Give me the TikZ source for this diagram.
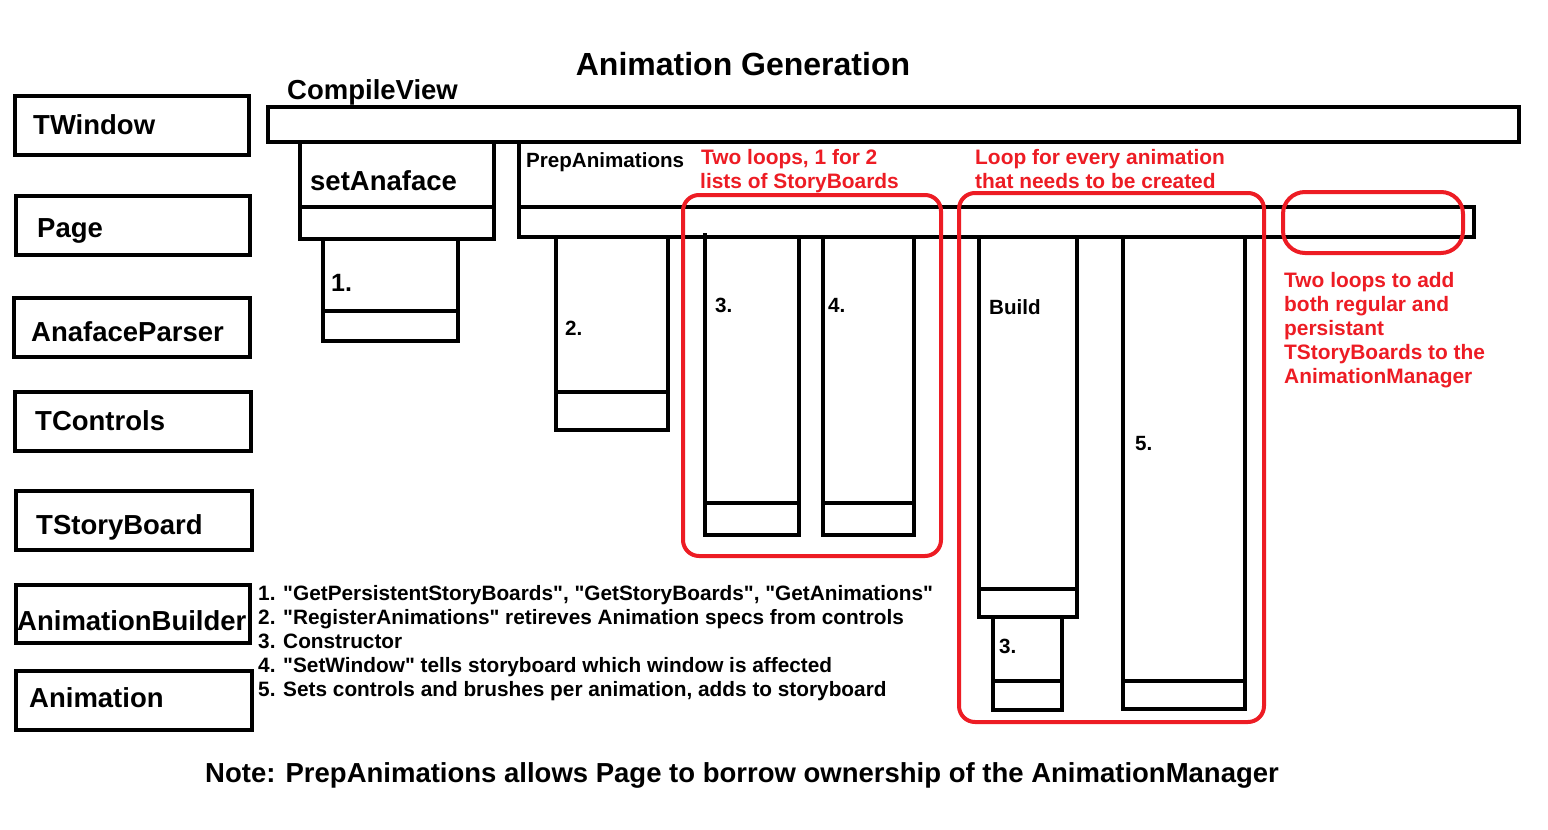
\documentclass[tikz,border=0pt]{standalone}
\usepackage{fontspec}
\setmainfont{Liberation Sans}[Ligatures=TeXOff]
\definecolor{pred}{RGB}{237,28,36}
\begin{document}
\begin{tikzpicture}[x=1pt,y=-1pt,line join=miter,
  box/.style={draw=black,line width=4pt},
  loop/.style={draw=pred,line width=4pt,rounded corners=16pt},
  lbl/.style={anchor=base west,inner sep=0pt,font=\bfseries\fontsize{27.5}{27.5}\selectfont},
  small/.style={anchor=base west,inner sep=0pt,font=\bfseries\fontsize{20.6}{20.6}\selectfont},
  redtxt/.style={anchor=base west,inner sep=0pt,text=pred,font=\bfseries\fontsize{20.9}{20.9}\selectfont},
  legend/.style={anchor=base west,inner sep=0pt,font=\bfseries\fontsize{20.8}{20.8}\selectfont}]
\useasboundingbox[fill=white] (0,0) rectangle (1548,830);

% title
\node[anchor=base,inner sep=0pt,font=\bfseries\fontsize{32}{32}\selectfont] (title) at (743,75) {Animation Generation};

% class boxes
\draw[box] (15,96) rectangle (249,155);
\node[lbl] (twindow) at (33,134) {TWindow};
\draw[box] (16,196) rectangle (250,255);
\node[lbl] (page) at (37,237) {Page};
\draw[box] (14,298) rectangle (250,357);
\node[lbl] (parser) at (31,341) {AnafaceParser};
\draw[box] (15,392) rectangle (251,451);
\node[lbl] (tcontrols) at (35,430) {TControls};
\draw[box] (16,491) rectangle (252,550);
\node[lbl] (tstory) at (36,534) {TStoryBoard};
\draw[box] (16,585) rectangle (250,643);
\node[lbl] (builder) at (17,630) {AnimationBuilder};
\draw[box] (16,671) rectangle (252,730);
\node[lbl] (animation) at (29,707) {Animation};

% CompileView
\node[lbl] (compileview) at (287,99) {CompileView};
\draw[box] (268,107) rectangle (1519,142);

% setAnaface
\draw[box] (300,142) rectangle (494,239);
\draw[box] (300,207) -- (494,207);
\node[lbl] (setanaface) at (310,190) {setAnaface};
\draw[box] (323,239) rectangle (458,341);
\draw[box] (323,311) -- (458,311);
\node[anchor=base west,inner sep=0pt,font=\bfseries\fontsize{25}{25}\selectfont] (n1) at (331,291) {1.};

% PrepAnimations
\draw[box] (519,140) -- (519,237);
\draw[box] (519,207) rectangle (1474,237);
\node[small] (prep) at (526,167) {PrepAnimations};

\draw[box] (556,237) rectangle (668,430);
\draw[box] (556,392) -- (668,392);
\node[small] (n2) at (565,335) {2.};

\draw[box] (705,237) rectangle (799,535);
\draw[box] (705,233) -- (705,237);
\draw[box] (705,503) -- (799,503);
\node[small] (n3) at (715,312) {3.};

\draw[box] (823,237) rectangle (914,535);
\draw[box] (823,503) -- (914,503);
\node[small] (n4) at (828,312) {4.};

\draw[box] (979,237) rectangle (1077,617);
\draw[box] (979,589) -- (1077,589);
\node[small] (build) at (989,314) {Build};

\draw[box] (993,617) rectangle (1062,710);
\draw[box] (993,681) -- (1062,681);
\node[small] (n3b) at (999,653) {3.};

\draw[box] (1123,237) rectangle (1245,709);
\draw[box] (1123,681) -- (1245,681);
\node[small] (n5) at (1135,450) {5.};

% red loops
\draw[loop] (683,195) rectangle (941,556);
\draw[loop] (959,193) rectangle (1264,722);
\draw[loop,rounded corners=22pt] (1283,192) rectangle (1463,253);

\node[redtxt] (loopa1) at (701,164) {Two loops, 1 for 2};
\node[redtxt] (loopa2) at (700,188) {lists of StoryBoards};
\node[redtxt] (loopb1) at (975,164) {Loop for every animation};
\node[redtxt] (loopb2) at (975,188) {that needs to be created};
\node[redtxt] (loopc1) at (1284,287) {Two loops to add};
\node[redtxt] (loopc2) at (1284,311) {both regular and};
\node[redtxt] (loopc3) at (1284,335) {persistant};
\node[redtxt] (loopc4) at (1284,359) {TStoryBoards to the};
\node[redtxt] (loopc5) at (1284,383) {AnimationManager};

% legend
\node[legend] (leg1) at (258,600) {1. "GetPersistentStoryBoards", "GetStoryBoards", "GetAnimations"};
\node[legend] (leg2) at (258,624) {2. "RegisterAnimations" retireves Animation specs from controls};
\node[legend] (leg3) at (258,648) {3. Constructor};
\node[legend] (leg4) at (258,672) {4. "SetWindow" tells storyboard which window is affected};
\node[legend] (leg5) at (258,696) {5. Sets controls and brushes per animation, adds to storyboard};

% note
\node[anchor=base west,inner sep=0pt,font=\bfseries\fontsize{27.5}{27.5}\selectfont] (note) at (205,782) {Note: PrepAnimations allows Page to borrow ownership of the AnimationManager};
\end{tikzpicture}
\end{document}
